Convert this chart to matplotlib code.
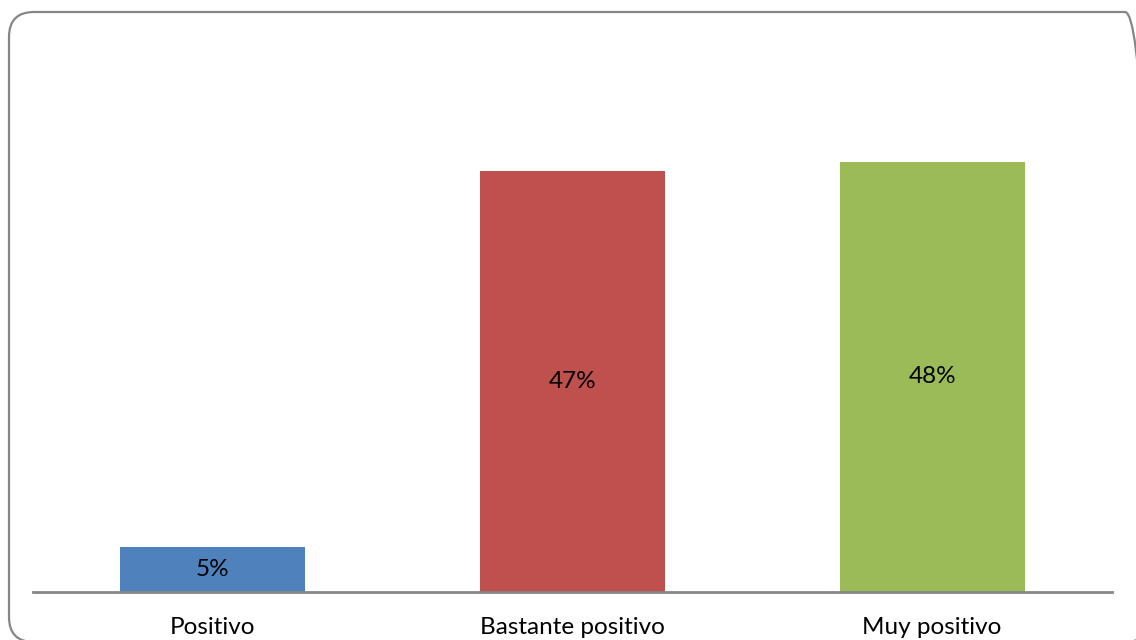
import matplotlib.pyplot as plt
from matplotlib.patches import FancyBboxPatch
from matplotlib.transforms import IdentityTransform

categories = ['Positivo', 'Bastante positivo', 'Muy positivo']
values = [5, 47, 48]
colors = ['#4F81BD', '#C0504D', '#9BBB59']

plt.rcParams['font.family'] = ['Lato', 'DejaVu Sans']

fig = plt.figure(figsize=(11.36, 6.4), dpi=100)
W, H = 1136, 640

# rounded chart border in pixel coords (runs off right and bottom edges)
border = FancyBboxPatch((9, -2), 1150 - 9, 628 + 2,
                        boxstyle='round,pad=0,rounding_size=25',
                        transform=IdentityTransform(), facecolor='none',
                        edgecolor='#868686', linewidth=1.6, zorder=-1)
fig.patches.append(border)

ax = fig.add_axes([33 / W, (640 - 592) / H, (1112 - 33) / W, (592 - 54) / H])
ax.set_facecolor('none')
x = range(len(categories))
bars = ax.bar(x, values, width=0.514, color=colors)
ax.bar_label(bars, labels=[f'{v}%' for v in values], label_type='center', fontsize=17.5)

ax.set_xlim(-0.5, 2.5)
ax.set_ylim(0, 60)
ax.set_xticks(list(x))
ax.set_xticklabels(categories, fontsize=17.5)
ax.tick_params(axis='x', length=0, pad=18)
ax.set_yticks([])
for s in ['top', 'right', 'left']:
    ax.spines[s].set_visible(False)
ax.spines['bottom'].set_color('#868686')
ax.spines['bottom'].set_linewidth(2)

fig.savefig('out.png', dpi=100)
